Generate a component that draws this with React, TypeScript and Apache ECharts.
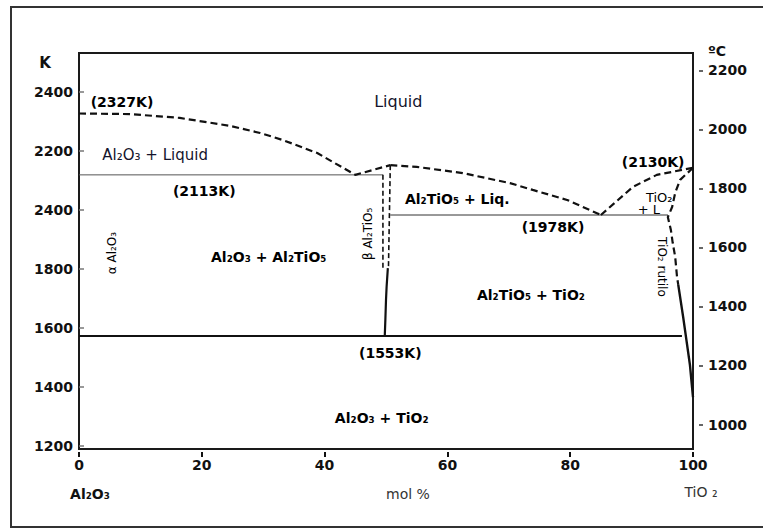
import React, { useEffect, useRef } from "react";
import * as echarts from "echarts";

// Axis ticks
const xTickValues = [0, 20, 40, 60, 80, 100];
const kTickValues = [1200, 1400, 1600, 1800, 2000, 2200, 2400];
const kTickLabels = ["1200", "1400", "1600", "1800", "2400", "2200", "2400"];
const cTickValues = [1000, 1200, 1400, 1600, 1800, 2000, 2200];

// Phase boundaries: [mol % TiO2, K]
const liquidusAl2O3 = [[0, 2327], [8.3, 2325], [16.4, 2312], [24.6, 2285], [29.5, 2261], [33.2, 2237], [38.8, 2193], [45.0, 2119], [50.7, 2152]];
const liquidusAl2TiO5 = [[50.7, 2152], [55.0, 2146], [62.5, 2125], [70.2, 2091], [73.9, 2068], [79.5, 2034], [85.0, 1983]];
const liquidusTiO2 = [[85.0, 1983], [90.2, 2078], [94.1, 2119], [100, 2143]];
const solidusTiO2Dashed = [[100, 2143], [97.9, 2102], [97.1, 2058], [96.6, 2010], [95.9, 1976], [96.4, 1932], [96.7, 1888], [97.1, 1841], [97.4, 1773], [97.6, 1746]];
const solidusTiO2Solid = [[97.6, 1746], [98.4, 1637], [99.0, 1549], [99.5, 1475], [100, 1366]];
const al2tio5LeftDashed = [[49.5, 2119], [49.5, 1803]];
const al2tio5RightDashed = [[50.7, 2152], [50.4, 1803]];
const al2tio5Solid = [[50.3, 1803], [50.1, 1740], [50.0, 1695], [49.9, 1630], [49.8, 1573]];
const eutectic2113 = [[0, 2119], [49.5, 2119]];
const eutectic1978 = [[50.7, 1983], [95.9, 1983]];
const eutectoid1553 = [[0, 1573], [98.2, 1573]];

// Region / point labels: [x, K, text, rotate, size, bold, color]
const annotations: [number, number, string, number, number, boolean, string][] = [
  [7.0, 2366, "(2327K)", 0, 14, true, "#000"],
  [52.0, 2366, "Liquid", 0, 16, false, "#14142c"],
  [12.4, 2186, "Al₂O₃ + Liquid", 0, 15, false, "#14142c"],
  [20.4, 2064, "(2113K)", 0, 14, true, "#000"],
  [61.6, 2037, "Al₂TiO₅ + Liq.", 0, 14, true, "#000"],
  [93.5, 2163, "(2130K)", 0, 14, true, "#000"],
  [94.5, 2044, "TiO₂", 0, 13, false, "#000"],
  [92.8, 2000, "+ L", 0, 13, false, "#000"],
  [77.2, 1942, "(1978K)", 0, 14, true, "#000"],
  [5.4, 1854, "α Al₂O₃", 90, 12, false, "#000"],
  [30.9, 1841, "Al₂O₃ + Al₂TiO₅", 0, 14, true, "#000"],
  [47.1, 1919, "β Al₂TiO₅", 90, 12, false, "#000"],
  [73.6, 1712, "Al₂TiO₅ + TiO₂", 0, 14, true, "#000"],
  [95.0, 1807, "TiO₂ rutilo", -90, 12, false, "#000"],
  [50.7, 1515, "(1553K)", 0, 14, true, "#000"],
  [49.3, 1295, "Al₂O₃ + TiO₂", 0, 14, true, "#000"],
];

const FONT = "DejaVu Sans";

export default function App() {
  const ref = useRef<HTMLDivElement>(null);
  useEffect(() => {
    if (!ref.current) return;
    const chart = echarts.init(ref.current, undefined, { renderer: "svg" });
    const dashed = (data: number[][]) => ({
      type: "line",
      data,
      symbol: "none",
      silent: true,
      lineStyle: { color: "#111", width: 2.2, type: [7, 4] },
    });
    const solid = (data: number[][], width: number, color = "#111") => ({
      type: "line",
      data,
      symbol: "none",
      silent: true,
      lineStyle: { color, width, type: "solid" },
    });
    chart.setOption({
      animation: false,
      backgroundColor: "#fff",
      grid: { left: 79, right: 70, top: 53, bottom: 80, show: true, borderColor: "#1a1a1a", borderWidth: 2, backgroundColor: "transparent" },
      xAxis: {
        type: "value",
        min: 0,
        max: 100,
        interval: 20,
        offset: 3,
        axisLine: { show: false },
        axisTick: { show: true, length: 5, lineStyle: { color: "#111", width: 2 } },
        axisLabel: {
          margin: 6,
          fontFamily: FONT,
          fontWeight: "bold",
          fontSize: 14,
          color: "#111",
          customValues: xTickValues,
        },
        splitLine: { show: false },
      },
      yAxis: [
        {
          type: "value",
          min: 1190,
          max: 2532,
          position: "left",
          axisLine: { show: false },
          axisTick: { show: true, inside: true, length: 5, customValues: kTickValues, lineStyle: { color: "#777", width: 1.5 } },
          axisLabel: {
            customValues: kTickValues,
            formatter: (v: number) => kTickLabels[kTickValues.indexOf(v)] ?? "",
            margin: 6,
            fontFamily: FONT,
            fontWeight: "bold",
            fontSize: 14,
            color: "#111",
          },
          splitLine: { show: false },
        },
        {
          type: "value",
          min: 917,
          max: 2259,
          position: "right",
          offset: 6,
          axisLine: { show: false },
          axisTick: { show: true, length: 4, customValues: cTickValues, lineStyle: { color: "#333", width: 1.5 } },
          axisLabel: {
            customValues: cTickValues,
            formatter: (v: number) => String(v),
            margin: 9,
            fontFamily: FONT,
            fontWeight: "bold",
            fontSize: 14,
            color: "#111",
          },
          splitLine: { show: false },
        },
      ],
      series: [
        solid(eutectic2113, 1, "#555"),
        solid(eutectic1978, 1, "#333"),
        solid(eutectoid1553, 1.8, "#111"),
        dashed(liquidusAl2O3),
        dashed(liquidusAl2TiO5),
        dashed(liquidusTiO2),
        dashed(solidusTiO2Dashed),
        solid(solidusTiO2Solid, 2.4),
        { ...dashed(al2tio5LeftDashed), lineStyle: { color: "#111", width: 1.6, type: [5, 3] } },
        { ...dashed(al2tio5RightDashed), lineStyle: { color: "#111", width: 1.6, type: [5, 3] } },
        solid(al2tio5Solid, 2.2),
        {
          type: "scatter",
          symbolSize: 0,
          silent: true,
          z: 10,
          itemStyle: { opacity: 1 },
          data: annotations.map(([x, k, text, rot, size, bold, color]) => ({
            value: [x, k],
            label: {
              show: true,
              position: "inside",
              formatter: text,
              rotate: rot,
              fontFamily: FONT,
              fontSize: size,
              fontWeight: bold ? "bold" : "normal",
              color,
              opacity: 1,
              align: "center",
              verticalAlign: "middle",
            },
          })),
        },
      ],
      graphic: [
        { type: "rect", silent: true, shape: { x: 11, y: 7, width: 800, height: 520 }, style: { fill: "none", stroke: "#333", lineWidth: 2 } },
        { type: "text", x: 45, y: 63, style: { text: "K", font: `bold 15px ${FONT}`, fill: "#111", textAlign: "center", textVerticalAlign: "middle" } },
        { type: "text", x: 717, y: 51, style: { text: "ºC", font: `bold 14px ${FONT}`, fill: "#111", textAlign: "center", textVerticalAlign: "middle" } },
        { type: "text", x: 90, y: 494, style: { text: "Al₂O₃", font: `bold 14px ${FONT}`, fill: "#111", textAlign: "center", textVerticalAlign: "middle" } },
        { type: "text", x: 408, y: 494, style: { text: "mol %", font: `14px ${FONT}`, fill: "#333", textAlign: "center", textVerticalAlign: "middle" } },
        { type: "text", x: 701, y: 492, style: { text: "TiO ₂", font: `14px ${FONT}`, fill: "#333", textAlign: "center", textVerticalAlign: "middle" } },
      ],
    });
    return () => chart.dispose();
  }, []);
  return <div ref={ref} style={{ position: "fixed", left: 0, top: 0, width: 763, height: 529, background: "#fff" }} />;
}
